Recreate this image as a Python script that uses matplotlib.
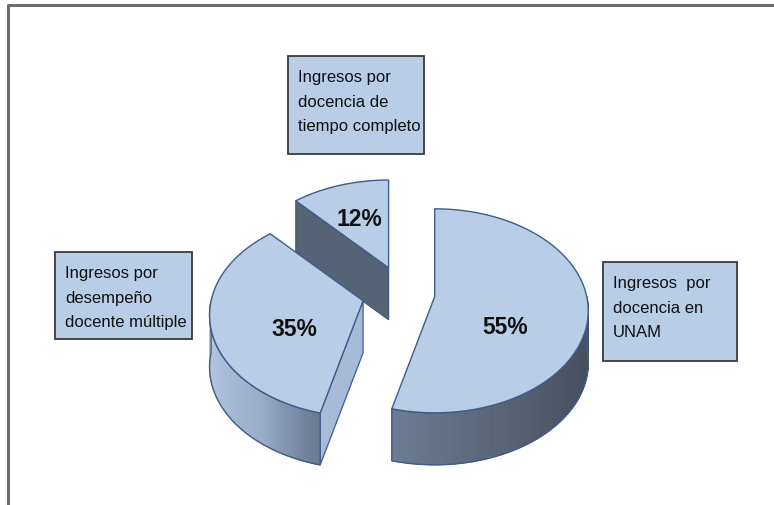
import numpy as np
import matplotlib.pyplot as plt
from matplotlib.patches import Polygon, Rectangle
from matplotlib.colors import LinearSegmentedColormap

# Data
shares = [55, 35, 12]
pct_labels = ['55%', '35%', '12%']
categories = [
    'Ingresos  por\ndocencia en\nUNAM',
    'Ingresos por\ndesempeño\ndocente múltiple',
    'Ingresos por\ndocencia de\ntiempo completo',
]

# Layout / style (pixel coordinates, y down)
W, H = 774, 506
CX, CY = 398, 293          # pie centre before exploding
A, B, K = 152, 100, 0.14   # ellipse radii and perspective factor
DEPTH = 52
explode = [37, 36, 26]
label_dy = [24, 16, 0]
label_r = [0.46, 0.45, 0.6]
boxes = [(603, 263, 134, 99), (55, 253, 137, 87), (288, 57, 136, 98)]

TOP = '#b9cde6'
EDGE = '#3f5d8c'
FONT = ['Liberation Sans', 'DejaVu Sans']

wall_cmap = LinearSegmentedColormap.from_list(
    'wall', [(0.0, '#b3c6e2'), (0.2, '#9aaecb'), (0.35, '#6f7e96'),
             (0.65, '#5a6577'), (1.0, '#454e5c')])
face_cmap = LinearSegmentedColormap.from_list('face', ['#4a5666', '#a8bbd8'])


def proj(cx, cy, theta, r=1.0):
    s, c = np.sin(theta), np.cos(theta)
    d = 1 + K * s
    return cx + r * A * c / d, cy - r * B * s / d


fig = plt.figure(figsize=(W / 100, H / 100), dpi=100)
ax = fig.add_axes([0, 0, 1, 1])
ax.set_xlim(0, W)
ax.set_ylim(H, 0)
ax.axis('off')

# frame of the original picture
ax.plot([8, 8, W], [H, 6, 6], color='#6e6e6e', lw=2.2, solid_capstyle='butt')

# slice angles (clockwise from 12 o'clock)
total = float(sum(shares))
cum = np.concatenate([[0], np.cumsum(shares)]) / total
slices = []
for i, v in enumerate(shares):
    hi = np.radians(90 - cum[i] * 360)
    lo = np.radians(90 - cum[i + 1] * 360)
    mid = (hi + lo) / 2
    ox = CX + explode[i] * np.cos(mid)
    oy = CY - explode[i] * np.sin(mid)
    slices.append((i, hi, lo, mid, ox, oy))

# draw back to front
for i, hi, lo, mid, ox, oy in sorted(slices, key=lambda s: s[5]):
    # radial side faces
    for ang, side in ((hi, 1), (lo, -1)):
        nx = -np.sin(ang) * side
        ny = np.cos(ang) * side
        if ny < -0.02:
            px, py = proj(ox, oy, ang)
            quad = [(ox, oy), (px, py), (px, py + DEPTH), (ox, oy + DEPTH)]
            ax.add_patch(Polygon(quad, closed=True, facecolor=face_cmap((nx + 1) / 2),
                                 edgecolor=EDGE, lw=0.9, zorder=2))
    # outer wall (front half only)
    th = np.linspace(lo, hi, 400)
    vis = np.sin(th) < 0
    if vis.any():
        tv = th[vis]
        xs, ys = proj(ox, oy, tv)
        for j in range(len(tv) - 1):
            col = wall_cmap((np.cos(tv[j]) + 1) / 2)
            q = [(xs[j], ys[j]), (xs[j + 1], ys[j + 1]),
                 (xs[j + 1], ys[j + 1] + DEPTH), (xs[j], ys[j] + DEPTH)]
            ax.add_patch(Polygon(q, closed=True, facecolor=col, edgecolor=col,
                                 lw=0.6, zorder=2))
        outline = list(zip(xs, ys)) + list(zip(xs[::-1], ys[::-1] + DEPTH))
        ax.add_patch(Polygon(outline, closed=True, facecolor='none',
                             edgecolor=EDGE, lw=1.0, zorder=3))
    # top face
    xs, ys = proj(ox, oy, th)
    pts = [(ox, oy)] + list(zip(xs, ys))
    ax.add_patch(Polygon(pts, closed=True, facecolor=TOP, edgecolor=EDGE,
                         lw=1.0, zorder=4))
    lx, ly = proj(ox, oy, mid, label_r[i])
    ax.text(lx, ly + label_dy[i], pct_labels[i], ha='center', va='center',
            fontsize=16.5, fontweight='bold', family=FONT, color='#111111', zorder=5)

# category boxes
for (bx, by, bw, bh), txt in zip(boxes, categories):
    ax.add_patch(Rectangle((bx, by), bw, bh, facecolor=TOP, edgecolor='#3a3a3a',
                           lw=1.3, zorder=5))
    ax.text(bx + 10, by + 13, txt, ha='left', va='top', fontsize=12,
            family=FONT, color='#111111', linespacing=1.8, zorder=6)

fig.savefig('out.png', dpi=100)
